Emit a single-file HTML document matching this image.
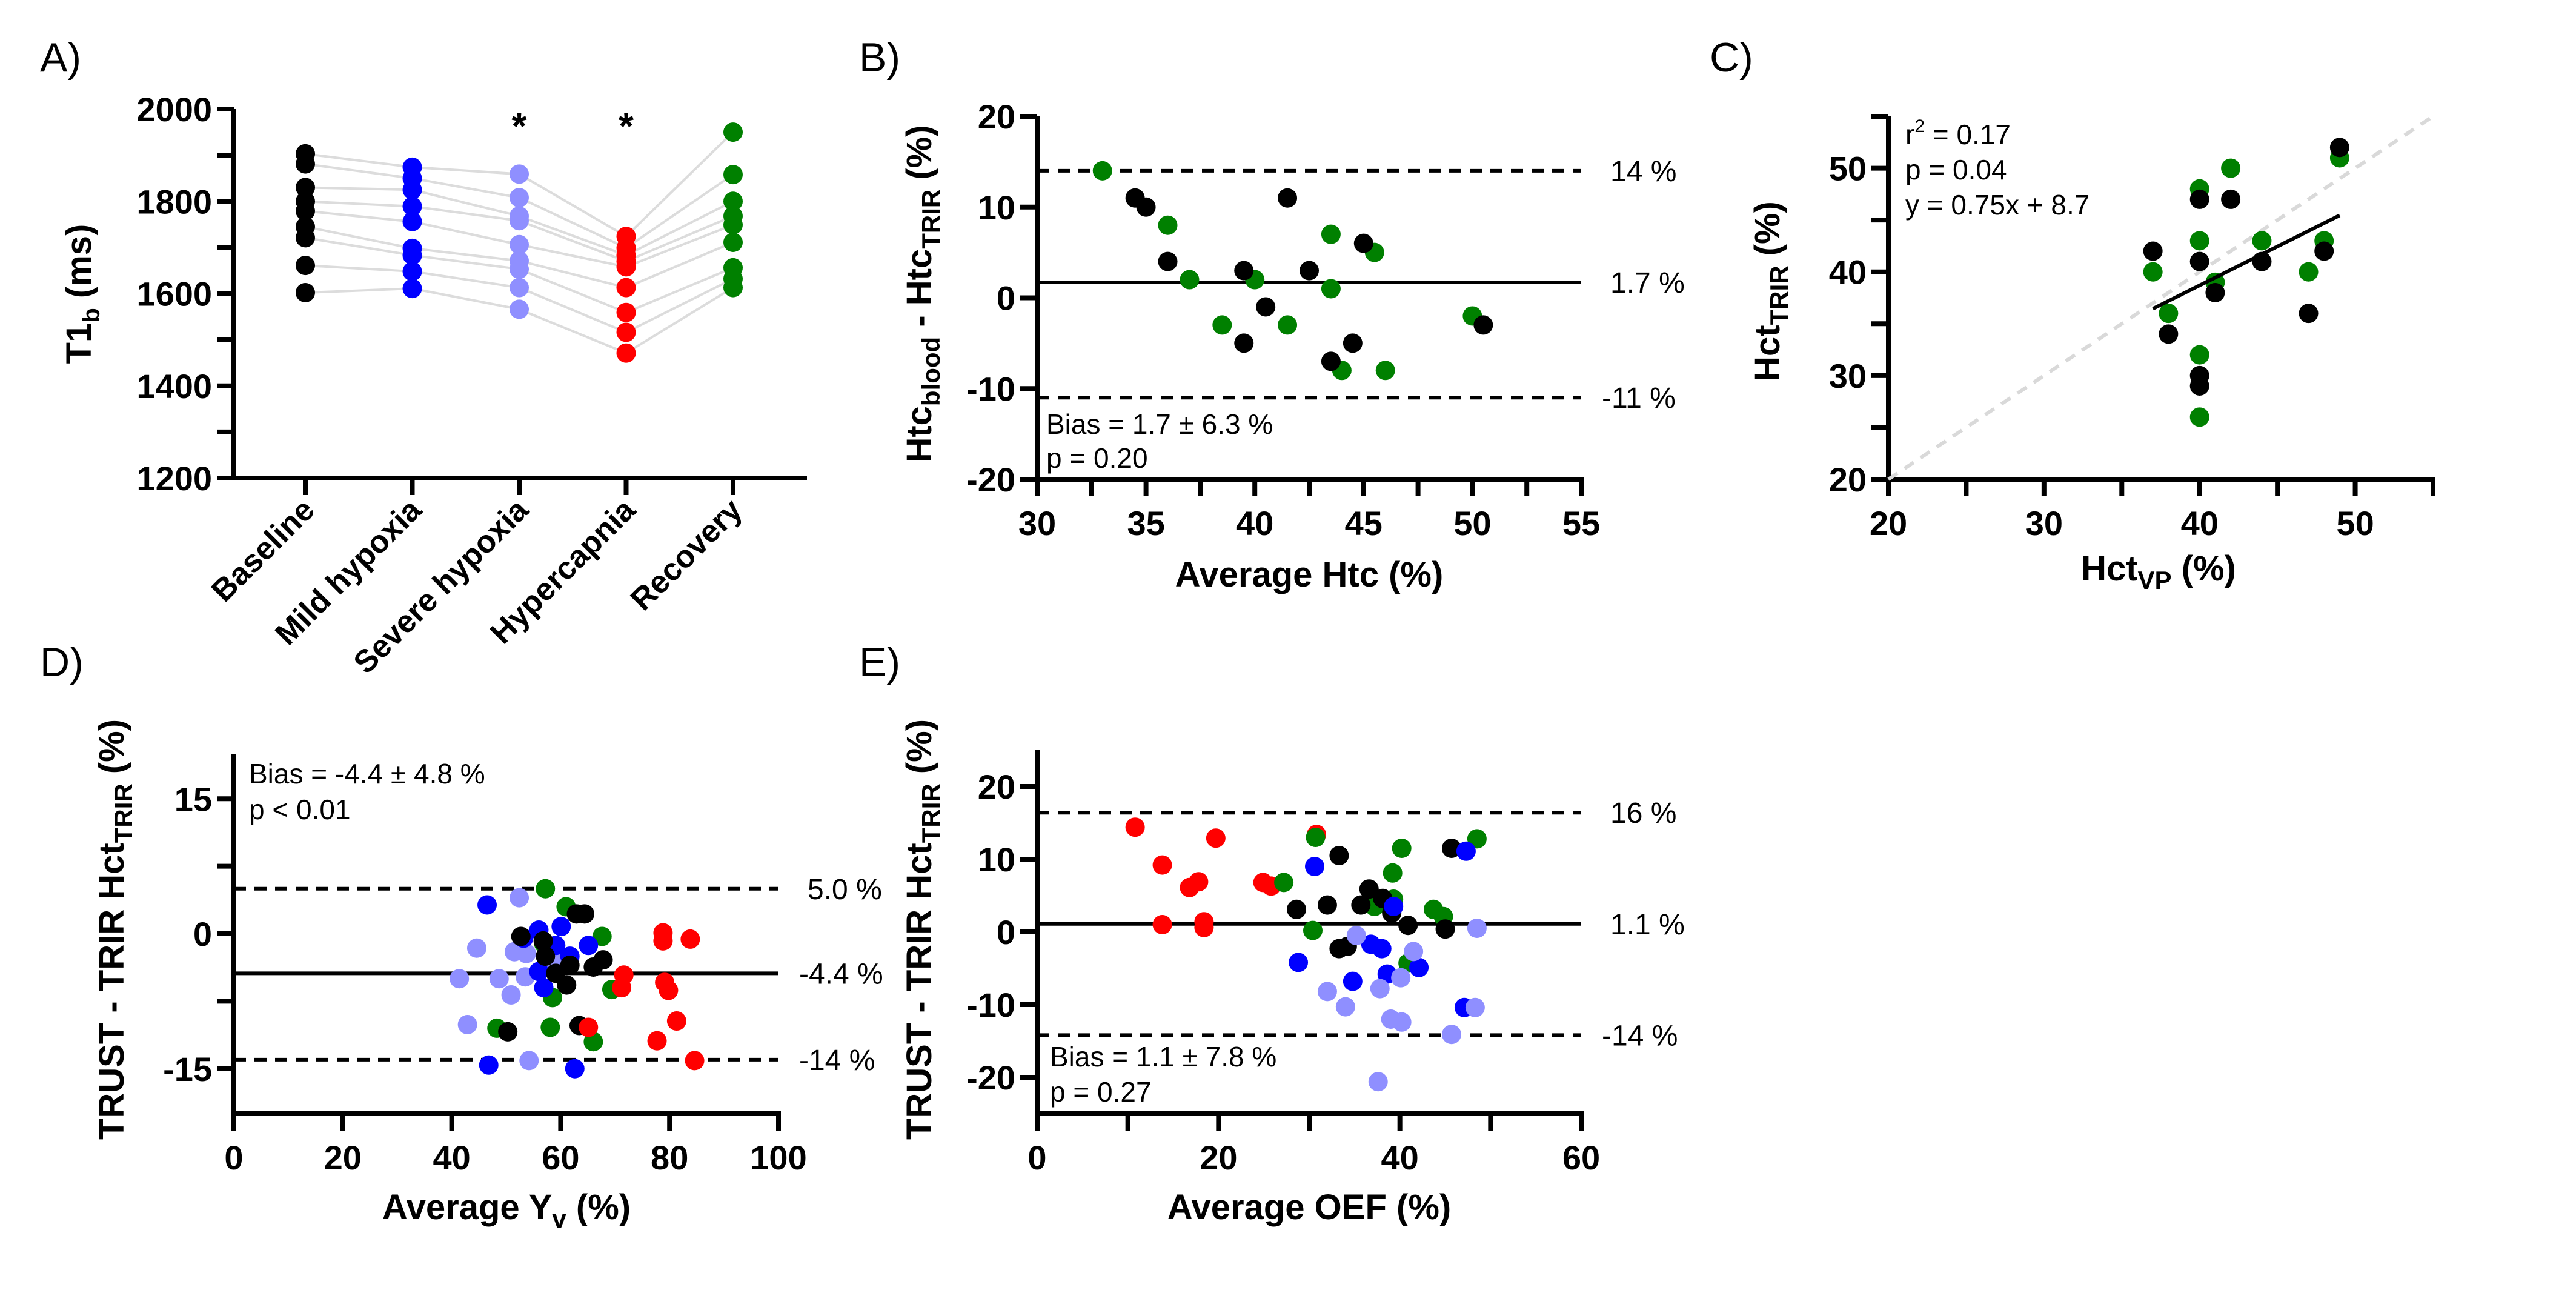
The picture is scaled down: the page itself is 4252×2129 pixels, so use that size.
<!DOCTYPE html>
<html><head><meta charset="utf-8"><style>
html,body{margin:0;padding:0;background:#fff;}
svg{display:block;font-family:"Liberation Sans",Arial,sans-serif;}
</style></head><body>
<svg id="fig" width="4252" height="2129" viewBox="0 0 4252 2129" xmlns="http://www.w3.org/2000/svg"></svg>
<script>
// ---------- Panel A data ----------
const aCategories = ["Baseline","Mild hypoxia","Severe hypoxia","Hypercapnia","Recovery"];
const aBaseline = [1903,1881,1830,1800,1779,1745,1721,1661,1602];
const aMild     = [1874,1850,1825,1789,1756,1698,1683,1648,1611];
const aSevere   = [1859,1808,1768,1758,1706,1671,1653,1613,1566];
const aHyper    = [1724,1699,1683,1670,1658,1613,1559,1516,1471];
const aRecovery = [1950,1858,1800,1768,1749,1711,1656,1632,1613];
const aYTicks = [1200,1400,1600,1800,2000];
// ---------- Panel B data ----------
const bGreenX = [33,36,37,38.5,40,41.5,43.5,43.5,44,45.5,46,50];
const bGreenY = [14,8,2,-3,2,-3,7,1,-8,5,-8,-2];
const bBlackX = [34.5,35,36,39.5,39.5,40.5,41.5,42.5,43.5,44.5,45,50.5];
const bBlackY = [11,10,4,3,-5,-1,11,3,-7,-5,6,-3];
const bLines = [14,1.7,-11];
const bLineLabels = ["14 %","1.7 %","-11 %"];
// ---------- Panel C data ----------
const cBlackX = [37,38,40,40,40,40,41,42,44,47,48,49];
const cBlackY = [42,34,47,41,30,29,38,47,41,36,42,52];
const cGreenX = [37,38,40,40,40,40,41,42,44,47,48,49];
const cGreenY = [40,36,48,43,32,26,39,50,43,40,43,51];
const cFit = [0.75,8.7];
// ---------- Panel D data ----------
const dLightX=[41.4,44.6,42.9,48.7,50.9,51.5,52.4,53.7,53.5,54.2,58.9];
const dLightY=[-5.0,-1.6,-10.1,-5.0,-6.8,-2.0,4.0,-2.2,-4.8,-14.1,-3.0];
const dGreenX=[57.2,61,67.6,58.5,69.4,48.3,58.1,66,56.9];
const dGreenY=[5.0,3.0,-0.3,-7.1,-6.2,-10.5,-10.4,-12.0,-1.1];
const dBlueX=[46.5,46.8,53.2,56,56,56.9,59.1,60.1,61.7,65.1,62.6];
const dBlueY=[3.2,-14.6,-0.5,0.4,-4.2,-6.0,-1.3,0.8,-2.5,-1.3,-15];
const dBlackX=[52.7,56.8,57.2,59.1,61.7,61.1,62.9,64.4,66,67.8,50.3,63.4];
const dBlackY=[-0.3,-0.8,-2.5,-4.4,-3.5,-5.7,2.2,2.2,-3.7,-2.9,-10.9,-10.2];
const dRedX=[78.8,78.8,83.8,71.6,71.2,79.1,79.8,81.3,65.1,77.7,84.6];
const dRedY=[0.1,-0.8,-0.6,-4.6,-6.0,-5.4,-6.3,-9.7,-10.4,-11.9,-14.1];
const dLines=[5.0,-4.4,-14];
const dLineLabels=["5.0 %","-4.4 %","-14 %"];
// ---------- Panel E data ----------
const eRedX=[10.8,13.8,13.8,16.8,17.8,18.4,18.4,19.7,24.9,25.8,30.8];
const eRedY=[14.4,9.2,1.0,6.1,6.9,1.4,0.6,12.9,6.8,6.3,13.4];
const eGreenX=[27.2,30.4,30.7,37.2,39.2,39.3,40.2,40.9,43.7,44.8,48.5];
const eGreenY=[6.8,0.2,13.0,3.5,8.1,4.5,11.5,-4.3,3.1,2.1,12.8];
const eBlackX=[28.6,32,33.3,33.3,34.2,35.7,36.6,38.1,39.1,40.9,45,45.7];
const eBlackY=[3.1,3.7,10.5,-2.3,-2.0,3.7,5.9,4.6,2.6,0.9,0.4,11.5];
const eBlueX=[28.8,30.6,34.8,36.8,38,38.6,39.3,42.1,47.1,47.3];
const eBlueY=[-4.2,9.0,-6.8,-1.7,-2.3,-5.8,3.5,-4.9,-10.4,11.1];
const eLightX=[32,34,35.2,37.8,37.6,39,40.2,40.1,41.5,45.7,48.3,48.5];
const eLightY=[-8.2,-10.3,-0.5,-7.8,-20.6,-12.0,-12.4,-6.3,-2.7,-14.1,-10.4,0.5];
const eLines=[16.4,1.1,-14.2];
const eLineLabels=["16 %","1.1 %","-14 %"];

const COL={black:"#000000",blue:"#0000ff",light:"#8f8fff",red:"#ff0000",green:"#008000"};
const NS="http://www.w3.org/2000/svg";
const svg=document.getElementById("fig");
function mk(tag,attrs,parent){const e=document.createElementNS(NS,tag);for(const k in attrs)e.setAttribute(k,attrs[k]);(parent||svg).appendChild(e);return e;}
function scale(d0,d1,r0,r1){return v=>r0+(v-d0)/(d1-d0)*(r1-r0);}

function axes(g,P,xt,yt,xLab,yLab,opt){
  let l=mk("line",{x1:P.X0,y1:P.Y1,x2:P.X0,y2:P.Y0+4,stroke:"#000","stroke-width":8},g);
  
  
  l=mk("line",{x1:P.X0-4,y1:P.Y0,x2:P.X1+4,y2:P.Y0,stroke:"#000","stroke-width":8},g);
  
  
  xt.forEach(v=>{const x=P.sx(v);
    const t=mk("line",{x1:x,y1:P.Y0,x2:x,y2:P.Y0+28,stroke:"#000","stroke-width":8},g);
    
    });
  yt.forEach(v=>{const y=P.sy(v);
    const t=mk("line",{x1:P.X0,y1:y,x2:P.X0-28,y2:y,stroke:"#000","stroke-width":8},g);
    
    });
  xLab.forEach(v=>{const t=mk("text",{x:P.sx(v),y:P.Y0+92,"text-anchor":"middle","font-size":56,"font-weight":"bold"},g);
    t.textContent=String(v);
    
    });
  yLab.forEach(v=>{const t=mk("text",{x:P.X0-36,y:P.sy(v)+20,"text-anchor":"end","font-size":56,"font-weight":"bold"},g);
    t.textContent=String(v);
    
    });
}
function dots(g,P,xs,ys,color,name){
  xs.forEach((x,i)=>{const c=mk("circle",{cx:P.sx(x),cy:P.sy(ys[i]),r:16,fill:color},g);
    
    });
}
function hlines(g,P,vals,labels){
  vals.forEach((v,i)=>{const y=P.sy(v);
    const l=mk("line",{x1:P.X0,y1:y,x2:P.X1,y2:y,stroke:"#000","stroke-width":6},g);
    if(i!==1)l.setAttribute("stroke-dasharray","20 14");
    
    
    const t=mk("text",{x:P.X1+(labels[i].startsWith("-")?34:48),y:y+17,"font-size":48},g);
    t.textContent=labels[i];
    
    });
}
function txt(g,x,y,s,size,attrs,name){const t=mk("text",Object.assign({x:x,y:y,"font-size":size},attrs||{}),g);t.innerHTML=s;
  
  return t;}
function ytitle(g,cx,cy,html){const t=mk("text",{x:0,y:0,"font-size":58,"font-weight":"bold","text-anchor":"middle",transform:`translate(${cx},${cy}) rotate(-90)`},g);t.innerHTML=html;
  
  }

// ================= Panel A =================
{
const g=mk("g",{});


txt(g,66,118,"A)",68,{},"panel-label");
const P={X0:386,X1:1328,Y0:789,Y1:180,sy:scale(1200,2000,789,180)};
const catX=i=>504+i*176.5;
P.sx=v=>v;
const series=[aBaseline,aMild,aSevere,aHyper,aRecovery];
const cols=[COL.black,COL.blue,COL.light,COL.red,COL.green];
for(let s=0;s<4;s++){series[s].forEach((v,i)=>{
  const l=mk("line",{x1:catX(s),y1:P.sy(v),x2:catX(s+1),y2:P.sy(series[s+1][i]),stroke:"#dcdcdc","stroke-width":4},g);
  
  });}
axes(g,P,aCategories.map((c,i)=>catX(i)),[1200,1300,1400,1500,1600,1700,1800,1900,2000],[],aYTicks,{});
series.forEach((arr,s)=>arr.forEach(v=>{const c=mk("circle",{cx:catX(s),cy:P.sy(v),r:16,fill:cols[s]},g);
  
  }));
aCategories.forEach((c,i)=>{const t=mk("text",{x:0,y:0,"font-size":52,"font-weight":"bold","text-anchor":"end",transform:`translate(${catX(i)+18},${845}) rotate(-45)`},g);
  t.textContent=c;
  
  });
[2,3].forEach(i=>txt(g,catX(i),230,"*",64,{"text-anchor":"middle","font-weight":"bold"},"significance-asterisk"));
ytitle(g,150,485,'T1<tspan font-size="40" dy="14">b</tspan><tspan dy="-14"> (ms)</tspan>');
}
// ================= Panel B =================
{
const g=mk("g",{});


txt(g,1418,118,"B)",68,{},"panel-label");
const P={X0:1712,X1:2610,Y0:791,Y1:192,sx:scale(30,55,1712,2610),sy:scale(-20,20,791,192)};
axes(g,P,[30,32.5,35,37.5,40,42.5,45,47.5,50,52.5,55],[-20,-10,0,10,20],[30,35,40,45,50,55],[-20,-10,0,10,20]);
hlines(g,P,bLines,bLineLabels);
dots(g,P,bGreenX,bGreenY,COL.green,'green-point');
dots(g,P,bBlackX,bBlackY,COL.black,'black-point');
txt(g,1727,716,"Bias = 1.7 ± 6.3 %",46,{},"bias-annotation");
txt(g,1727,772,"p = 0.20",46,{},"p-value-annotation");
txt(g,2161,968,"Average Htc (%)",58,{"text-anchor":"middle","font-weight":"bold"},"x-axis-title");
ytitle(g,1537,485,'Htc<tspan font-size="42" dy="14">blood</tspan><tspan dy="-14"> - Htc</tspan><tspan font-size="42" dy="14">TRIR</tspan><tspan dy="-14"> (%)</tspan>');
}
// ================= Panel C =================
{
const g=mk("g",{});


txt(g,2822,118,"C)",68,{},"panel-label");
const P={X0:3117,X1:4016,Y0:791,Y1:192,sx:scale(20,55,3117,4016),sy:scale(20,55,791,192)};
axes(g,P,[20,25,30,35,40,45,50,55],[20,25,30,35,40,45,50,55],[20,30,40,50],[20,30,40,50]);
let l=mk("line",{x1:P.sx(20),y1:P.sy(20),x2:P.sx(55),y2:P.sy(55),stroke:"#d9d9d9","stroke-width":6,"stroke-dasharray":"18 14"},g);


dots(g,P,cGreenX,cGreenY,COL.green,'green-point');
dots(g,P,cBlackX,cBlackY,COL.black,'black-point');
l=mk("line",{x1:P.sx(37),y1:P.sy(cFit[0]*37+cFit[1]),x2:P.sx(49),y2:P.sy(cFit[0]*49+cFit[1]),stroke:"#000","stroke-width":6},g);


txt(g,3145,238,'r<tspan font-size="30" dy="-20">2</tspan><tspan dy="20"> = 0.17</tspan>',46,{},"r-squared-annotation");
txt(g,3145,296,"p = 0.04",46,{},"p-value-annotation");
txt(g,3145,354,"y = 0.75x + 8.7",46,{},"equation-annotation");
txt(g,3563,958,'Hct<tspan font-size="42" dy="14">VP</tspan><tspan dy="-14"> (%)</tspan>',58,{"text-anchor":"middle","font-weight":"bold"},"x-axis-title");
ytitle(g,2937,481,'Hct<tspan font-size="42" dy="14">TRIR</tspan><tspan dy="-14"> (%)</tspan>');
}
// ================= Panel D =================
{
const g=mk("g",{});


txt(g,66,1116,"D)",68,{},"panel-label");
const P={X0:386,X1:1285,Y0:1838,Y1:1244,sx:scale(0,100,386,1285),sy:scale(-20,20,1838,1244)};
axes(g,P,[0,20,40,60,80,100],[-15,-7.5,0,7.5,15],[0,20,40,60,80,100],[-15,0,15]);
hlines(g,P,dLines,dLineLabels);
dots(g,P,dLightX,dLightY,COL.light,'severe-hypoxia-point');
dots(g,P,dGreenX,dGreenY,COL.green,'recovery-point');
dots(g,P,dBlueX,dBlueY,COL.blue,'mild-hypoxia-point');
dots(g,P,dBlackX,dBlackY,COL.black,'baseline-point');
dots(g,P,dRedX,dRedY,COL.red,'hypercapnia-point');
txt(g,411,1293,"Bias = -4.4 ± 4.8 %",46,{},"bias-annotation");
txt(g,411,1352,"p &lt; 0.01",46,{},"p-value-annotation");
txt(g,836,2012,'Average Y<tspan font-size="42" dy="14">v</tspan><tspan dy="-14"> (%)</tspan>',58,{"text-anchor":"middle","font-weight":"bold"},"x-axis-title");
ytitle(g,204,1534,'TRUST - TRIR Hct<tspan font-size="42" dy="14">TRIR</tspan><tspan dy="-14"> (%)</tspan>');
}
// ================= Panel E =================
{
const g=mk("g",{});


txt(g,1418,1116,"E)",68,{},"panel-label");
const P={X0:1712,X1:2610,Y0:1838,Y1:1238,sx:scale(0,60,1712,2610),sy:scale(-25,25,1838,1238)};
axes(g,P,[0,10,20,30,40,50,60],[-20,-10,0,10,20],[0,20,40,60],[-20,-10,0,10,20]);
hlines(g,P,eLines,eLineLabels);
dots(g,P,eRedX,eRedY,COL.red,'hypercapnia-point');
dots(g,P,eGreenX,eGreenY,COL.green,'recovery-point');
dots(g,P,eBlackX,eBlackY,COL.black,'baseline-point');
dots(g,P,eBlueX,eBlueY,COL.blue,'mild-hypoxia-point');
dots(g,P,eLightX,eLightY,COL.light,'severe-hypoxia-point');
txt(g,1733,1760,"Bias = 1.1 ± 7.8 %",46,{},"bias-annotation");
txt(g,1733,1818,"p = 0.27",46,{},"p-value-annotation");
txt(g,2161,2012,"Average OEF (%)",58,{"text-anchor":"middle","font-weight":"bold"},"x-axis-title");
ytitle(g,1537,1534,'TRUST - TRIR Hct<tspan font-size="42" dy="14">TRIR</tspan><tspan dy="-14"> (%)</tspan>');
}
</script>
</body></html>
